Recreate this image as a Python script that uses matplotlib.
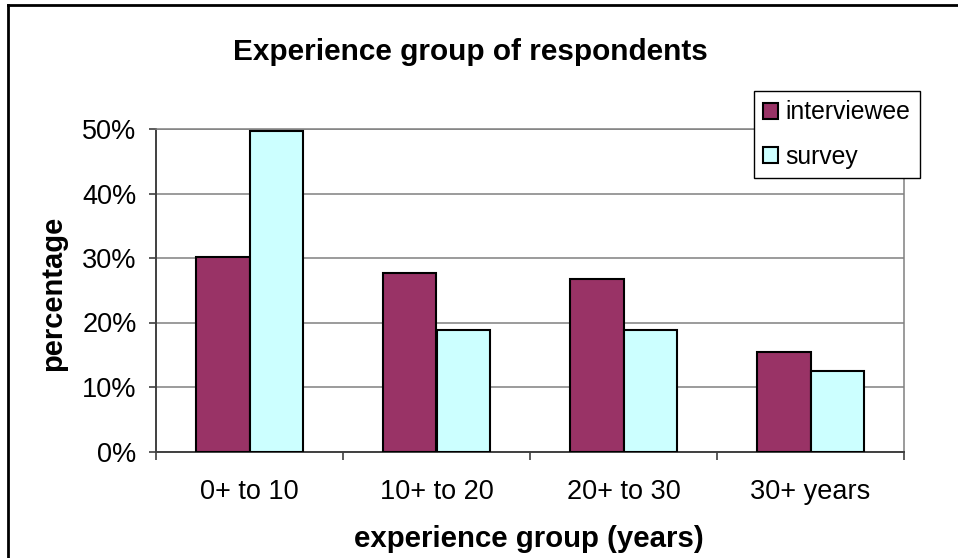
import numpy as np
import matplotlib
matplotlib.use("Agg")
import matplotlib.pyplot as plt
from matplotlib.lines import Line2D
from matplotlib.ticker import FixedLocator, PercentFormatter

plt.rcParams["font.family"] = ["Liberation Sans", "DejaVu Sans"]

groups = ["0+ to 10", "10+ to 20", "20+ to 30", "30+ years"]
interviewee = [30.2, 27.6, 26.7, 15.5]
survey = [49.7, 18.9, 18.9, 12.5]
y_ticks = [0, 10, 20, 30, 40, 50]

W, H = 958, 558
fig = plt.figure(figsize=(W / 100, H / 100), dpi=100)
ax = fig.add_axes([156 / W, 1 - 451.5 / H, (904 - 156) / W, (451.5 - 129) / H])

x = np.arange(len(groups))
bw = 1 / 3.5
ax.bar(x - bw / 2, interviewee, bw, color="#993366", edgecolor="black",
       linewidth=1.5, label="interviewee", zorder=3)
ax.bar(x + bw / 2, survey, bw, color="#CCFFFF", edgecolor="black",
       linewidth=1.5, label="survey", zorder=3)

ax.set_xlim(-0.5, len(groups) - 0.5)
ax.set_ylim(0, 50)
ax.set_yticks(y_ticks)
ax.yaxis.set_major_formatter(PercentFormatter(decimals=0))
ax.yaxis.grid(True, color="#808080", linewidth=1.1, zorder=0)
ax.tick_params(axis="y", direction="out", length=5, width=1.2, color="#404040",
               labelsize=19.5, pad=9)

ax.set_xticks(x)
ax.set_xticklabels(groups)
ax.xaxis.set_minor_locator(FixedLocator(np.arange(len(groups) + 1) - 0.5))
ax.tick_params(axis="x", which="major", length=0, labelsize=19.5, pad=20)
ax.tick_params(axis="x", which="minor", direction="out", length=6, width=1.2,
               color="#404040")

for side in ("left", "bottom"):
    ax.spines[side].set_color("#404040")
    ax.spines[side].set_linewidth(1.4)
for side in ("top", "right"):
    ax.spines[side].set_color("#808080")
    ax.spines[side].set_linewidth(1.1)

fig.text(470 / W, 1 - 52 / H, "Experience group of respondents", ha="center",
         va="center", fontsize=21.4, fontweight="bold")
fig.text(529 / W, 1 - 547 / H, "experience group (years)", ha="center",
         va="baseline", fontsize=21.2, fontweight="bold")
fig.text(53 / W, 1 - 293 / H, "percentage", ha="center", va="center",
         rotation=90, fontsize=21, fontweight="bold")

leg = ax.legend(loc="upper left", bbox_to_anchor=(754 / W, 1 - 91 / H),
                bbox_transform=fig.transFigure, fontsize=17.8, frameon=True,
                fancybox=False, framealpha=1, edgecolor="black",
                borderaxespad=0, borderpad=0.38, handlelength=0.6,
                handleheight=0.6, handletextpad=0.3, labelspacing=0.82)
leg.get_frame().set_linewidth(1.0)
leg.set_zorder(5)

# outer chart frame (runs past the right and bottom edges)
fig.add_artist(Line2D([8 / W, 8 / W], [1 - 5 / H, -0.1], color="black",
                      linewidth=2, transform=fig.transFigure))
fig.add_artist(Line2D([8 / W, 1.1], [1 - 5 / H, 1 - 5 / H], color="black",
                      linewidth=2, transform=fig.transFigure))

fig.savefig("out.png", dpi=100)
